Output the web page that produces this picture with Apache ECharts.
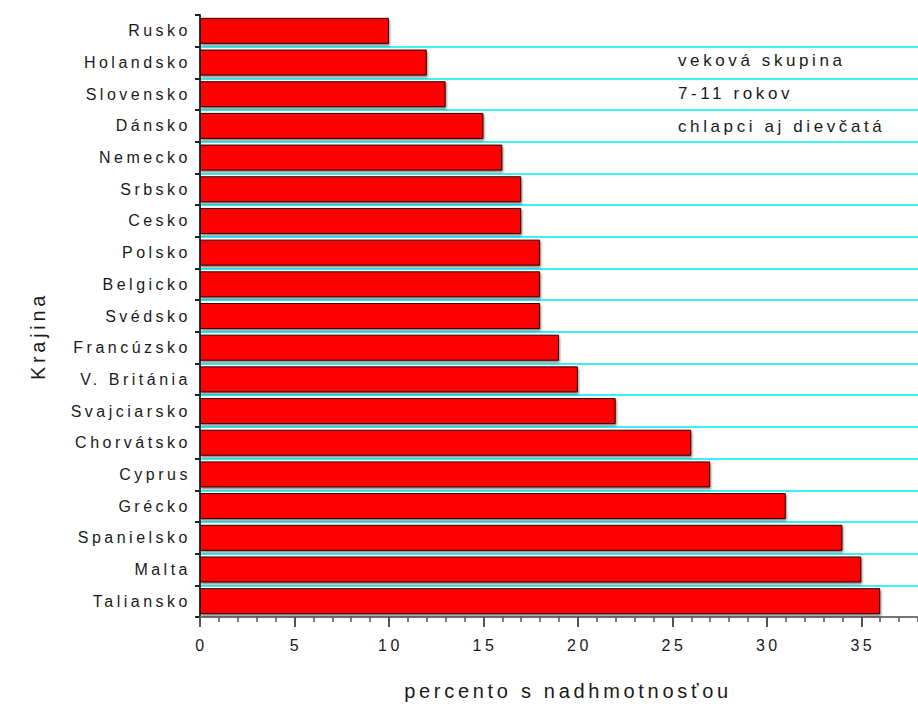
<!DOCTYPE html>
<html>
<head>
<meta charset="utf-8">
<script src="https://cdn.jsdelivr.net/npm/echarts@6/dist/echarts.min.js"></script>
<style>
  html, body { margin: 0; padding: 0; background: #fff; }
  #chart { width: 918px; height: 709px; }
</style>
</head>
<body>
<div id="chart"></div>
<script>
// Countries, top to bottom
const countries = [
  'Rusko', 'Holandsko', 'Slovensko', 'Dánsko', 'Nemecko', 'Srbsko', 'Cesko',
  'Polsko', 'Belgicko', 'Svédsko', 'Francúzsko', 'V. Británia', 'Svajciarsko',
  'Chorvátsko', 'Cyprus', 'Grécko', 'Spanielsko', 'Malta', 'Taliansko'
];
// Share of overweight children (%)
const overweight = [10, 12, 13, 15, 16, 17, 17, 18, 18, 18, 19, 20, 22, 26, 27, 31, 34, 35, 36];
// Note lines in the upper right corner
const noteLines = ['veková skupina', '7-11 rokov', 'chlapci aj dievčatá'];

const FONT = '"Liberation Sans", Arial, sans-serif';
const chart = echarts.init(document.getElementById('chart'), null, { renderer: 'svg' });

// Horizontal cyan separators between countries (no line on the very top edge)
const sepColors = ['rgba(0,0,0,0)'].concat(new Array(countries.length).fill('#3ef0f6'));

// Letter spacing by font size (the labels use a wide, airy setting)
const SPACING = { 16: 3.5, 17: 3.6, 20: 3.7 };
function spaceLetters() {
  document.querySelectorAll('#chart svg text').forEach(el => {
    const size = Math.round(parseFloat(getComputedStyle(el).fontSize));
    if (SPACING[size] !== undefined) el.style.letterSpacing = SPACING[size] + 'px';
  });
}

chart.setOption({
  animation: false,
  backgroundColor: '#ffffff',
  grid: { left: 200, right: 0, top: 15, bottom: 92, containLabel: false },
  xAxis: [
    {
      type: 'value', min: 0, max: 38, interval: 5,
      name: 'percento s nadhmotnosťou', nameLocation: 'middle', nameGap: 64,
      nameTextStyle: { fontFamily: FONT, fontSize: 20, color: '#1a1a1a', padding: [0, 0, 0, 18] },
      axisLine: { show: true, lineStyle: { color: '#777', width: 2 } },
      axisTick: { show: true, length: 10, lineStyle: { color: '#555', width: 2 } },
      axisLabel: { fontFamily: FONT, fontSize: 16, color: '#1a1a1a', margin: 20, showMaxLabel: false,
                   padding: [0, 0, 0, 3] },
      splitLine: { show: false }
    },
    {
      // unit minor ticks
      type: 'value', min: 0, max: 38, interval: 1, position: 'bottom',
      axisLine: { show: false },
      axisTick: { show: true, length: 5, lineStyle: { color: '#555', width: 1.5 } },
      axisLabel: { show: false },
      splitLine: { show: false }
    }
  ],
  yAxis: {
    type: 'category', data: countries, inverse: true,
    name: 'Krajina', nameLocation: 'middle', nameGap: 152, nameRotate: 90,
    nameTextStyle: { fontFamily: FONT, fontSize: 20, color: '#1a1a1a', padding: [0, 40, 0, 0] },
    axisLine: { show: true, lineStyle: { color: '#333', width: 2 } },
    axisTick: { show: true, length: 5, lineStyle: { color: '#222', width: 2 } },
    axisLabel: { fontFamily: FONT, fontSize: 16, color: '#1a1a1a', margin: 9 },
    splitLine: { show: true, lineStyle: { color: sepColors, width: 2 } }
  },
  series: [{
    type: 'bar',
    data: overweight,
    barWidth: 26,
    itemStyle: {
      color: '#ff0000',
      borderColor: '#2a0000',
      borderWidth: 1,
      shadowColor: 'rgba(0,0,0,0.45)',
      shadowBlur: 2,
      shadowOffsetX: 1,
      shadowOffsetY: 2
    }
  }],
  graphic: noteLines.map((t, i) => ({
    type: 'text', left: 678, top: 52 + i * 33,
    style: { text: t, fontFamily: FONT, fontSize: 17, fill: '#1a1a1a' }
  }))
});

chart.on('finished', spaceLetters);
spaceLetters();
requestAnimationFrame(spaceLetters);
</script>
</body>
</html>
